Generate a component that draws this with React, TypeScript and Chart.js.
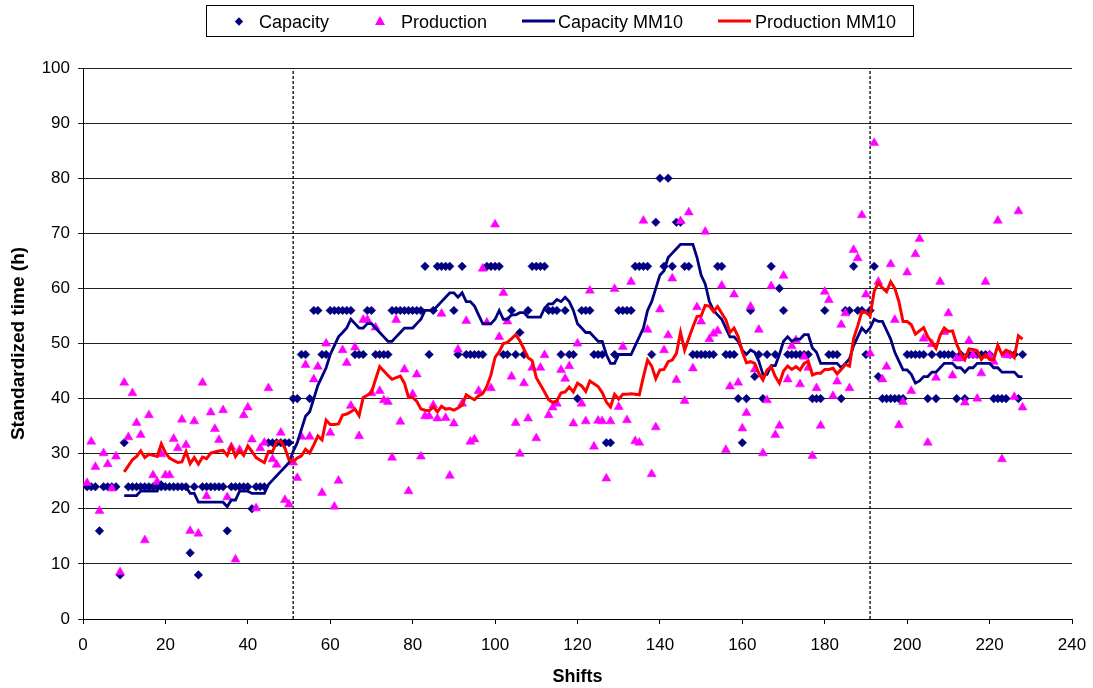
import { useEffect, useRef } from "react";
import { Chart, registerables } from "chart.js";

Chart.register(...registerables);

// ---------- data ----------
// Capacity per shift, shifts 1..228
const capacity: number[] = [
  24, 24, 24, 16, 24, 24, 24, 24, 8, 32,
  24, 24, 24, 24, 24, 24, 24, 24, 24, 24,
  24, 24, 24, 24, 24, 12, 24, 8, 24, 24,
  24, 24, 24, 24, 16, 24, 24, 24, 24, 24,
  20, 24, 24, 24, 32, 32, 32, 32, 32, 32,
  40, 40, 48, 48, 40, 56, 56, 48, 48, 56,
  56, 56, 56, 56, 56, 48, 48, 48, 56, 56,
  48, 48, 48, 48, 56, 56, 56, 56, 56, 56,
  56, 56, 64, 48, 56, 64, 64, 64, 64, 56,
  48, 64, 48, 48, 48, 48, 48, 64, 64, 64,
  64, 48, 48, 56, 48, 52, 48, 56, 64, 64,
  64, 64, 56, 56, 56, 48, 56, 48, 48, 40,
  56, 56, 56, 48, 48, 48, 32, 32, 48, 56,
  56, 56, 56, 64, 64, 64, 64, 48, 72, 80,
  64, 80, 64, 72, 72, 64, 64, 48, 48, 48,
  48, 48, 48, 64, 64, 48, 48, 48, 40, 32,
  40, 56, 44, 48, 40, 48, 64, 48, 60, 56,
  48, 48, 48, 48, 48, 48, 40, 40, 40, 56,
  48, 48, 48, 40, 56, 56, 64, 56, 56, 48,
  56, 64, 44, 40, 40, 40, 40, 40, 40, 48,
  48, 48, 48, 48, 40, 48, 40, 48, 48, 48,
  48, 40, 48, 40, 48, 48, 48, 48, 48, 48,
  40, 40, 40, 40, 48, 48, 40, 48,
];

// Production per shift, shifts 1..228
const production: number[] = [
  24.7, 32.2, 27.6, 19.6, 30.1, 28.1, 23.7, 29.5, 8.5, 42.9,
  33, 41, 35.6, 33.4, 14.3, 37, 26.1, 24.9, 29.9, 26.1,
  26.1, 32.7, 31, 36.2, 31.6, 16, 35.9, 15.5, 42.9, 22.3,
  37.5, 34.5, 32.5, 37.9, 22.1, 31.2, 10.8, 30.7, 37, 38.4,
  32.6, 20.1, 31, 32, 41.9, 29, 28, 33.8, 21.6, 20.8,
  28.4, 25.6, 33.1, 46.1, 33.1, 43.5, 45.8, 22.9, 50, 33.8,
  20.4, 25.1, 48.8, 46.5, 38.7, 49.3, 33.2, 54.3, 54.3, 41,
  52.9, 41.4, 39.7, 39.4, 29.3, 54.3, 35.8, 45.3, 23.2, 40.8,
  44.4, 29.5, 36.8, 36.8, 38.8, 36.4, 55.4, 36.5, 26, 35.5,
  48.9, 39.1, 54.1, 32.2, 32.6, 41.4, 63.6, 53.8, 41.9, 71.6,
  51.2, 59.2, 54, 44, 35.6, 30, 42.8, 36.4, 45.6, 32.8,
  45.6, 47.9, 37, 38.4, 39.1, 45.2, 43.6, 45.9, 35.5, 50,
  39.1, 35.9, 59.6, 31.3, 36, 35.9, 25.5, 35.9, 59.9, 38.5,
  49.4, 36.1, 61.2, 32.3, 32, 72.3, 52.5, 26.3, 34.8, 56.2,
  48.8, 51.5, 61.8, 43.4, 72.2, 39.6, 73.8, 45.5, 56.6, 54,
  70.3, 50.8, 51.8, 52.3, 60.5, 30.7, 42.2, 58.9, 42.9, 34.6,
  37.4, 56.7, 45.3, 52.5, 30.1, 39.7, 60.4, 33.4, 35.1, 62.3,
  43.5, 49.5, 50.6, 42.6, 47.6, 45.6, 29.6, 41.9, 35.1, 59.4,
  57.9, 40.5, 43.1, 53.4, 55.5, 41.9, 67, 65.5, 73.3, 58.9,
  48.2, 86.4, 61.2, 43.5, 45.8, 64.4, 54.3, 35.2, 39.4, 62.9,
  41.4, 66.2, 69, 50.9, 32, 49.9, 43.8, 61.2, 52.1, 55.5,
  44.2, 47.3, 47.3, 39.3, 50.5, 47.9, 40, 44.6, 61.2, 47.9,
  46.7, 72.3, 29, 47.9, 47.9, 40.3, 74, 38.4,
];

// Moving averages (10 shifts), shifts 10..228
const MM_START_SHIFT = 10;
const capacityMM10: number[] = [
  22.4, 22.4, 22.4, 22.4, 23.2, 23.2, 23.2, 23.2, 23.2, 24.8,
  24, 24, 24, 24, 24, 24, 22.8, 22.8, 21.2, 21.2,
  21.2, 21.2, 21.2, 21.2, 21.2, 20.4, 21.6, 21.6, 23.2, 23.2,
  23.2, 22.8, 22.8, 22.8, 22.8, 24.4, 25.2, 26, 26.8, 27.6,
  28.4, 30.4, 32, 34.4, 36.8, 37.6, 40, 42.4, 44, 45.6,
  48, 49.6, 51.2, 52, 52.8, 54.4, 53.6, 52.8, 52.8, 53.6,
  53.6, 52.8, 52, 51.2, 50.4, 50.4, 51.2, 52, 52.8, 52.8,
  52.8, 53.6, 54.4, 56, 56, 56, 56.8, 57.6, 58.4, 59.2,
  59.2, 58.4, 59.2, 57.6, 57.6, 56.8, 55.2, 53.6, 53.6, 53.6,
  54.4, 56, 54.4, 54.4, 55.2, 55.2, 55.6, 55.6, 54.8, 54.8,
  54.8, 54.8, 56.4, 57.2, 57.2, 58, 57.6, 58.4, 57.6, 56,
  53.6, 52.8, 52, 52, 51.2, 50.4, 50.4, 48, 46.4, 46.4,
  48, 48, 48, 48, 49.6, 51.2, 52.8, 56, 57.6, 60,
  62.4, 63.2, 65.6, 66.4, 67.2, 68, 68, 68, 68, 65.6,
  62.4, 60.8, 57.6, 56, 55.2, 54.4, 52.8, 51.2, 51.2, 50.4,
  48.8, 48, 48.8, 48.4, 46.8, 44.4, 44.4, 46, 46, 48,
  50.4, 51.2, 50.4, 50.8, 50.8, 51.6, 51.6, 49.2, 48.4, 46.4,
  46.4, 46.4, 46.4, 46.4, 45.6, 46.4, 47.2, 49.6, 51.2, 52.8,
  52, 52.8, 54.4, 54, 54, 52.4, 50.8, 48.4, 46.8, 45.2,
  45.2, 44.4, 42.8, 43.2, 44, 44, 44.8, 44.8, 45.6, 46.4,
  46.4, 46.4, 45.6, 45.6, 44.8, 45.6, 45.6, 46.4, 46.4, 46.4,
  46.4, 45.6, 45.6, 44.8, 44.8, 44.8, 44.8, 44, 44,
];

const productionMM10: number[] = [
  26.7, 27.8, 28.9, 29.5, 30.5, 29.3, 29.9, 29.7, 29.5, 31.8,
  30.2, 29.2, 28.8, 28.4, 28.5, 30.4, 28.2, 29.3, 28.1, 29.4,
  29.1, 30.1, 30.3, 30.5, 30.6, 29.7, 31.4, 29.5, 30.6, 29.7,
  31.4, 30.4, 29.3, 28.8, 28.4, 30.4, 30.4, 32.2, 32.3, 31,
  28.9, 28.6, 29.2, 29.6, 30.8, 30.1, 31.6, 33.2, 32.5, 36.1,
  35.3, 35.3, 35.4, 37, 37.2, 37.6, 38.1, 36.9, 40.2, 40.6,
  41.1, 43.5, 45.8, 45, 44.2, 43.5, 43.8, 44.1, 42.8, 40.2,
  40.2, 39.5, 38.1, 37.9, 37.8, 38.5, 37.6, 38.6, 38.1, 38.2,
  37.9, 38.3, 38.8, 40.7, 40.2, 39.8, 40.5, 40.9, 42.2, 44.3,
  47.5, 48.5, 50, 50.2, 50.9, 51.6, 50.5, 49, 47.4, 46.9,
  43.8, 42.5, 41.2, 39.8, 39.3, 39.6, 41, 41.2, 42.1, 41.2,
  42.8, 42.3, 41.3, 43.2, 42.7, 42.2, 41.1, 39.4, 38.5, 40.8,
  39.9, 40.8, 40.8, 40.9, 40.8, 40.7, 44, 47, 45.9, 43.6,
  45.2, 45.3, 46.7, 47, 48.2, 52, 48.8, 50.9, 53, 54.9,
  55, 56.9, 56.8, 55.8, 56.7, 55.5, 54.3, 52, 52.8, 51.2,
  48.5, 46.5, 46.7, 46.4, 44.6, 43.4, 45.2, 45.8, 44, 42.8,
  45, 45.9, 45.3, 45.8, 45.2, 46.4, 46.8, 44.3, 44.6, 44.6,
  45.3, 45.3, 45.5, 44.5, 45.3, 46.2, 45.9, 50.9, 53.2, 55.8,
  55.6, 55, 59.5, 61, 60.1, 59.4, 61.2, 60, 57.6, 54,
  54, 53.4, 51.7, 52.3, 52.9, 51.2, 50.2, 49.1, 51.5, 52.8,
  52.2, 52.3, 49.9, 48.2, 47.1, 49, 48.9, 48.7, 47.1, 48,
  47.1, 47.1, 49.7, 48, 48.8, 48.4, 47.5, 51.4, 50.8,
];

// Period separators (dashed vertical lines), in shifts
const dividerShifts: number[] = [51, 191];

const seriesLabels = ["Capacity", "Production", "Capacity MM10", "Production MM10"];
const xTitle = "Shifts";
const yTitle = "Standardized time (h)";

// ---------- styles ----------
const FONT = "'Liberation Sans', Arial, Helvetica, sans-serif";
const NAVY = "#000080";
const MAGENTA = "#FF00FF";
const RED = "#FF0000";

const toPoints = (values: number[], firstShift: number) =>
  values.map((v, i) => ({ x: firstShift + i, y: v }));

const boxLegendPlugin = {
  id: "boxLegend",
  afterDraw(chart: any) {
    const ctx: CanvasRenderingContext2D = chart.ctx;
    ctx.save();
    ctx.strokeStyle = "#000";
    ctx.lineWidth = 1;
    ctx.strokeRect(206.5, 5.5, 707, 31);
    const my = 21.5;
    // Capacity marker (diamond)
    ctx.fillStyle = NAVY;
    ctx.beginPath();
    ctx.moveTo(239, my - 4.2);
    ctx.lineTo(243.2, my);
    ctx.lineTo(239, my + 4.2);
    ctx.lineTo(234.8, my);
    ctx.closePath();
    ctx.fill();
    // Production marker (triangle)
    ctx.fillStyle = MAGENTA;
    ctx.beginPath();
    ctx.moveTo(380, my - 5.5);
    ctx.lineTo(385, my + 3.5);
    ctx.lineTo(375, my + 3.5);
    ctx.closePath();
    ctx.fill();
    // Lines
    ctx.lineWidth = 3;
    ctx.strokeStyle = NAVY;
    ctx.beginPath();
    ctx.moveTo(522, 21);
    ctx.lineTo(555, 21);
    ctx.stroke();
    ctx.strokeStyle = RED;
    ctx.beginPath();
    ctx.moveTo(718, 21);
    ctx.lineTo(751, 21);
    ctx.stroke();
    // Texts
    ctx.fillStyle = "#000";
    ctx.font = `18px ${FONT}`;
    ctx.textBaseline = "alphabetic";
    ctx.textAlign = "left";
    ctx.fillText(seriesLabels[0], 259, 27.5);
    ctx.fillText(seriesLabels[1], 401, 27.5);
    ctx.fillText(seriesLabels[2], 558, 27.5);
    ctx.fillText(seriesLabels[3], 755, 27.5);
    ctx.restore();
  },
};

export default function App() {
  const canvasRef = useRef<HTMLCanvasElement | null>(null);

  useEffect(() => {
    const canvas = canvasRef.current;
    if (!canvas) return;

    const dividerSets = dividerShifts.map((s) => ({
      label: "divider",
      data: [
        { x: s, y: 0 },
        { x: s, y: 100 },
      ],
      showLine: true,
      borderColor: "#000",
      borderWidth: 1.3,
      borderDash: [3, 2],
      pointRadius: 0,
      order: 5,
    }));

    const chart = new Chart(canvas, {
      type: "scatter",
      data: {
        datasets: [
          {
            label: seriesLabels[0],
            data: toPoints(capacity, 1),
            pointStyle: "rectRot",
            pointRadius: 4.3,
            backgroundColor: NAVY,
            borderColor: NAVY,
            borderWidth: 0.5,
            order: 3,
          },
          {
            label: seriesLabels[1],
            data: toPoints(production, 1),
            pointStyle: "triangle",
            pointRadius: 5.2,
            backgroundColor: MAGENTA,
            borderColor: MAGENTA,
            borderWidth: 0.5,
            order: 2,
          },
          {
            label: seriesLabels[2],
            data: toPoints(capacityMM10, MM_START_SHIFT),
            showLine: true,
            borderColor: NAVY,
            backgroundColor: NAVY,
            borderWidth: 2.8,
            pointRadius: 0,
            tension: 0,
            order: 1,
          },
          {
            label: seriesLabels[3],
            data: toPoints(productionMM10, MM_START_SHIFT),
            showLine: true,
            borderColor: RED,
            backgroundColor: RED,
            borderWidth: 3,
            pointRadius: 0,
            tension: 0,
            order: 0,
          },
          ...dividerSets,
        ] as any,
      },
      options: {
        responsive: false,
        animation: false,
        devicePixelRatio: 1,
        events: [],
        layout: { padding: { top: 68, right: 21, bottom: 0, left: 0 } },
        plugins: {
          legend: { display: false },
          tooltip: { enabled: false },
        },
        scales: {
          x: {
            type: "linear",
            min: 0,
            max: 240,
            ticks: {
              stepSize: 20,
              color: "#000",
              font: { family: FONT, size: 17 },
              padding: 11,
              maxRotation: 0,
            },
            grid: {
              drawOnChartArea: false,
              drawTicks: true,
              tickLength: 5,
              color: "#000",
            },
            border: { display: true, color: "#000", width: 1 },
            title: {
              display: true,
              text: xTitle,
              color: "#000",
              font: { family: FONT, size: 18, weight: "bold" },
              padding: 0,
            },
            afterFit: (scale: any) => {
              scale.height = 69;
              scale.paddingLeft = 0;
              scale.paddingRight = 0;
            },
          },
          y: {
            type: "linear",
            min: 0,
            max: 100,
            ticks: {
              stepSize: 10,
              color: "#000",
              font: { family: FONT, size: 17 },
              padding: 8,
            },
            grid: {
              color: "#222",
              lineWidth: 1,
              tickLength: 5,
            },
            border: { display: true, color: "#000", width: 1 },
            title: {
              display: true,
              text: yTitle,
              color: "#000",
              font: { family: FONT, size: 19, weight: "bold" },
              padding: { top: 7, bottom: 0 },
            },
            afterFit: (scale: any) => {
              scale.width = 83;
            },
          },
        },
      } as any,
      plugins: [boxLegendPlugin],
    });

    return () => {
      chart.destroy();
    };
  }, []);

  return (
    <div
      style={{
        position: "absolute",
        left: 0,
        top: 0,
        width: 1093,
        height: 688,
        background: "#fff",
      }}
    >
      <canvas
        ref={canvasRef}
        width={1093}
        height={688}
        style={{ width: 1093, height: 688, display: "block" }}
      />
    </div>
  );
}
